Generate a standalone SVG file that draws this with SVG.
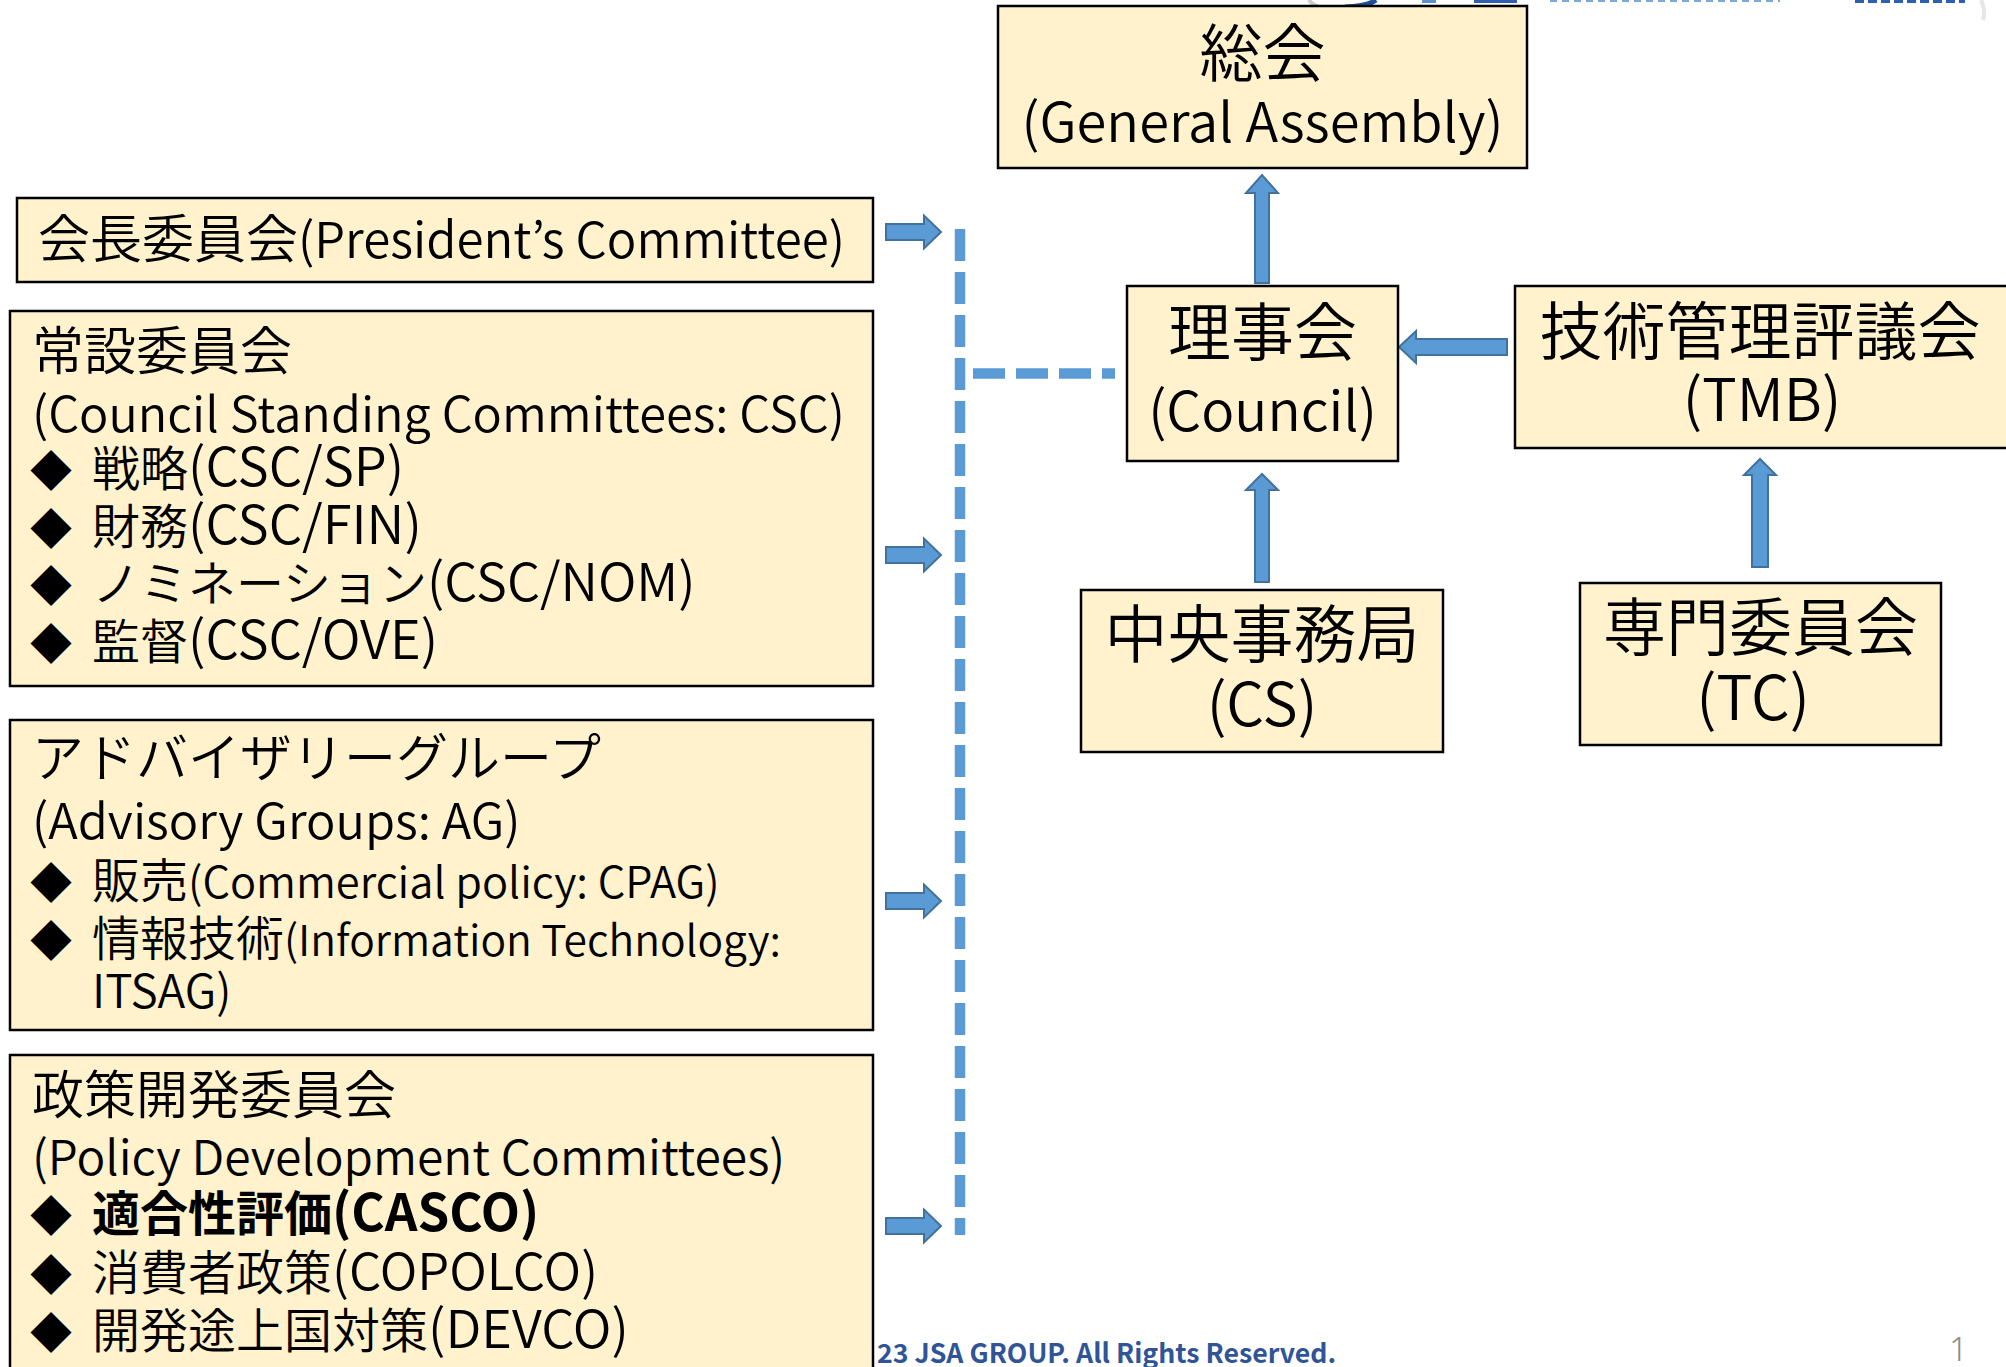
<svg xmlns="http://www.w3.org/2000/svg" width="2006" height="1367" viewBox="0 0 2006 1367">
<style>
.box{fill:#FFF2CC;stroke:#000;stroke-width:2.5}
.t{font-family:"Noto Sans CJK JP","Noto Sans",sans-serif;fill:#000;font-weight:350}
.l{font-size:52px}
.b{font-size:48px}
.d{font-size:42px}
.r{font-size:63px;text-anchor:middle}
.arrow{fill:#5B9BD5;stroke:#41719C;stroke-width:2}
.dash{stroke:#5B9BD5;fill:none;stroke-width:10.5;stroke-dasharray:32 11}
</style>
<rect width="2006" height="1367" fill="#fff"/>
<g id="header">
<path d="M1309 0 Q1312 5 1322 8" fill="none" stroke="#ccc" stroke-width="4"/>
<path d="M1345 7 Q1368 6 1376 0" fill="none" stroke="#1F4E9A" stroke-width="5"/>
<rect x="1422" y="0" width="14" height="3" fill="#5B8FD0"/>
<rect x="1474" y="0" width="43" height="3" fill="#2F5FB0"/>
<path d="M1550 1 H1780" stroke="#7FA6DC" stroke-width="2" stroke-dasharray="7 5"/>
<path d="M1855 1.5 H1965" stroke="#2F5FB0" stroke-width="3" stroke-dasharray="9 4"/>
<path d="M1981 0 Q1986 10 1983 20" fill="none" stroke="#e6e6e6" stroke-width="4"/>
</g>
<g id="connectors">
<path class="dash" d="M960 229 V1235"/>
<path class="dash" d="M973 373.5 H1115"/>
<path class="arrow" d="M886 224 H924 V215.5 L941 232 L924 248.5 V240 H886 Z"/>
<path class="arrow" d="M886 547 H924 V538.5 L941 555 L924 571.5 V563 H886 Z"/>
<path class="arrow" d="M886 893 H924 V884.5 L941 901 L924 917.5 V909 H886 Z"/>
<path class="arrow" d="M886 1218 H924 V1209.5 L941 1226 L924 1242.5 V1234 H886 Z"/>
<path class="arrow" d="M1255 283 V193 H1246 L1262 175 L1278 193 H1269 V283 Z"/>
<path class="arrow" d="M1255 582 V490 H1246 L1262 474 L1278 490 H1269 V582 Z"/>
<path class="arrow" d="M1752 567 V475 H1744 L1760 459 L1776 475 H1768 V567 Z"/>
<path class="arrow" d="M1507 339 H1416 V331 L1399 347 L1416 363 V355 H1507 Z"/>
</g>
<g id="general-assembly">
<rect class="box" x="998" y="6" width="529" height="162"/>
<text class="t r" x="1262.5" y="76">総会</text>
<text class="t r" x="1262.5" y="142" style="font-size:54.2px">(General Assembly)</text>
</g>
<g id="council">
<rect class="box" x="1127" y="286" width="271" height="175"/>
<text class="t r" x="1262.5" y="355">理事会</text>
<text class="t r" x="1262.5" y="431" style="font-size:55px">(Council)</text>
</g>
<g id="tmb">
<rect class="box" x="1515" y="286" width="495" height="162"/>
<text class="t r" x="1762" y="421" style="font-size:58.5px">(TMB)</text>
<text class="t r" x="1760" y="354">技術管理評議会</text>
</g>
<g id="cs">
<rect class="box" x="1081" y="590" width="362" height="162"/>
<text class="t r" x="1262" y="657">中央事務局</text>
<text class="t r" x="1262" y="726" style="font-size:59.5px">(CS)</text>
</g>
<g id="tc">
<rect class="box" x="1580" y="583" width="361" height="162"/>
<text class="t r" x="1760.5" y="650">専門委員会</text>
<text class="t r" x="1753" y="720" style="font-size:61px">(TC)</text>
</g>
<g id="president">
<rect class="box" x="17" y="198" width="856" height="84"/>
<text class="t l" x="38" y="258">会長委員会<tspan style="font-size:49.2px">(President’s Committee)</tspan></text>
</g>
<g id="csc">
<rect class="box" x="10" y="311" width="863" height="375"/>
<text class="t l" x="32" y="370">常設委員会</text>
<text class="t" x="32" y="432" style="font-size:48.8px">(Council Standing Committees: CSC)</text>
<text class="t b" y="486"><tspan class="d" x="30">◆</tspan><tspan x="92">戦略<tspan style="font-size:52.7px">(CSC/SP)</tspan></tspan></text>
<text class="t b" y="544"><tspan class="d" x="30">◆</tspan><tspan x="92">財務<tspan style="font-size:52.7px">(CSC/FIN)</tspan></tspan></text>
<text class="t b" y="601"><tspan class="d" x="30">◆</tspan><tspan x="92">ノミネーション<tspan style="font-size:52.2px">(CSC/NOM)</tspan></tspan></text>
<text class="t b" y="659"><tspan class="d" x="30">◆</tspan><tspan x="92">監督<tspan style="font-size:52.6px">(CSC/OVE)</tspan></tspan></text>
</g>
<g id="ag">
<rect class="box" x="10" y="720" width="863" height="310"/>
<text class="t l" x="32" y="777">アドバイザリーグループ</text>
<text class="t" x="32" y="839" style="font-size:49px">(Advisory Groups: AG)</text>
<text class="t b" y="898"><tspan class="d" x="30">◆</tspan><tspan x="92">販売<tspan style="font-size:43.4px">(Commercial policy: CPAG)</tspan></tspan></text>
<text class="t b" y="956"><tspan class="d" x="30">◆</tspan><tspan x="92">情報技術<tspan style="font-size:42.6px">(Information Technology:</tspan></tspan></text>
<text class="t" x="92" y="1008" style="font-size:46px">ITSAG)</text>
</g>
<g id="pdc">
<rect class="box" x="10" y="1055" width="863" height="330"/>
<text class="t l" x="32" y="1114">政策開発委員会</text>
<text class="t" x="32" y="1175" style="font-size:47.9px">(Policy Development Committees)</text>
<text class="t b" y="1231" style="font-weight:bold"><tspan class="d" x="30">◆</tspan><tspan x="92">適合性評価<tspan style="font-size:51px">(CASCO)</tspan></tspan></text>
<text class="t b" y="1290"><tspan class="d" x="30">◆</tspan><tspan x="92">消費者政策<tspan style="font-size:51px">(COPOLCO)</tspan></tspan></text>
<text class="t b" y="1348"><tspan class="d" x="30">◆</tspan><tspan x="92">開発途上国対策<tspan style="font-size:52.5px">(DEVCO)</tspan></tspan></text>
</g>
<g id="footer">
<text x="877" y="1363" font-family="'Noto Sans CJK JP','Noto Sans',sans-serif" font-size="26.7" font-weight="bold" fill="#2F5597">23 JSA GROUP. All Rights Reserved.</text>
<text x="1949" y="1361" font-family="'Noto Sans','Liberation Sans',sans-serif" font-size="33" font-weight="300" fill="#8c8c8c">1</text>
</g>
</svg>
